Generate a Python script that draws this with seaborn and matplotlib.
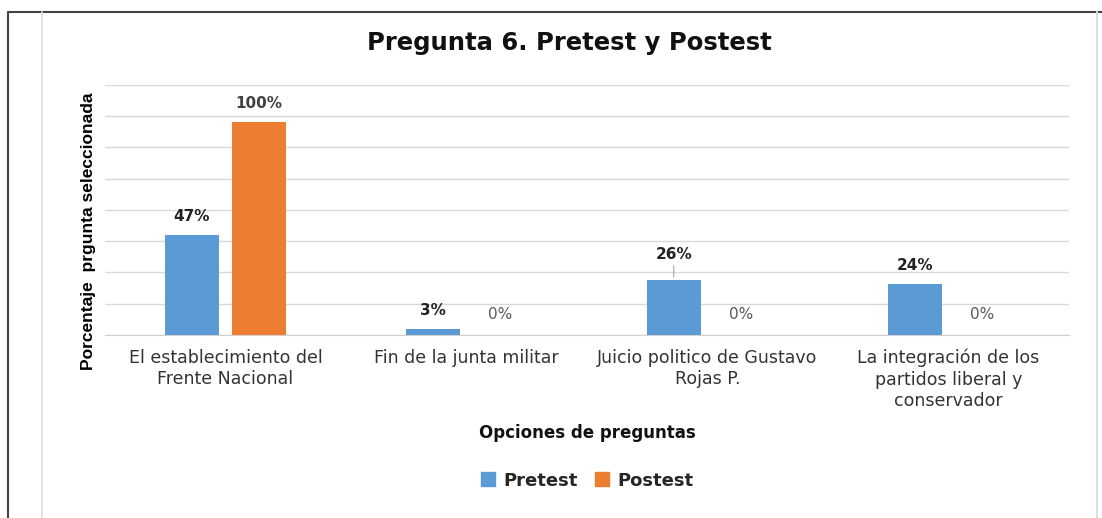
import numpy as np
import pandas as pd
import seaborn as sns
from matplotlib import pyplot as plt
from matplotlib.lines import Line2D

categories = ["El establecimiento del\nFrente Nacional",
              "Fin de la junta militar",
              "Juicio politico de Gustavo\nRojas P.",
              "La integración de los\npartidos liberal y\nconservador"]
pretest = [47, 3, 26, 24]
postest = [100, 0, 0, 0]
series = ["Pretest", "Postest"]
colors = ["#5B9BD5", "#ED7D31"]

df = pd.DataFrame({
    "Opcion": categories * 2,
    "Serie": ["Pretest"] * 4 + ["Postest"] * 4,
    "Valor": pretest + postest,
})

sns.set_style("white")
plt.rcParams['font.family'] = ['DejaVu Sans']

fig = plt.figure(figsize=(11.02, 5.18), dpi=100)
ax = fig.add_axes([0.0953, 0.3533, 0.8747, 0.4827])

sns.barplot(data=df, x="Opcion", y="Valor", hue="Serie", hue_order=series,
            palette=colors, width=0.56, gap=0.2, ax=ax, legend=False,
            saturation=1, edgecolor="none")

top = 117.4
ax.set_ylim(0, top)
ax.set_xlim(-0.5, 3.5)
ax.set_yticks(np.linspace(0, top, 9))
ax.set_yticklabels([])
ax.yaxis.grid(True, color="#D9D9D9", linewidth=1)
ax.set_axisbelow(True)
ax.tick_params(axis="both", length=0)
for s in ["left", "right", "top"]:
    ax.spines[s].set_visible(False)
ax.spines["bottom"].set_color("#D0D0D0")

ax.set_xticks(range(4))
ax.set_xticklabels(categories, fontsize=12.5, color="#333333", linespacing=1.25)
ax.tick_params(axis="x", pad=10)

ax.set_xlabel("Opciones de preguntas", fontsize=12, fontweight="bold",
              labelpad=10, color="#111111")
ax.set_ylabel("Porcentaje  prgunta seleccionada", fontsize=12.5,
              fontweight="bold", family="Liberation Sans", color="#000000")
ax.yaxis.set_label_coords(-0.0095, 0.416)

# data labels
for i, container in enumerate(ax.containers):
    for j, bar in enumerate(container):
        v = int(round(bar.get_height()))
        x = bar.get_x() + bar.get_width() / 2
        if v == 0:
            ax.annotate("0%", (x, 0), xytext=(0, 14.5), textcoords="offset points",
                        ha="center", va="center", fontsize=11, color="#595959")
            continue
        off = 13
        if series[i] == "Pretest" and j == 2:
            off = 18
            ax.annotate("", (x, v), xytext=(0, off - 6), textcoords="offset points",
                        arrowprops=dict(arrowstyle="-", color="#A6A6A6", lw=0.8))
        col = "#404040" if v == 100 else "#222222"
        ax.annotate(f"{v}%", (x, v), xytext=(0, off), textcoords="offset points",
                    ha="center", va="center", fontsize=11, fontweight="bold",
                    color=col)

fig.text(0.517, 0.917, "Pregunta 6. Pretest y Postest", ha="center",
         va="center", fontsize=17.5, fontweight="bold", color="#111111")

handles = [Line2D([], [], marker="s", linestyle="none", markersize=10,
                  markerfacecolor=c, markeredgecolor=c) for c in colors]
fig.legend(handles, series, loc="center", bbox_to_anchor=(0.532, 0.072),
           ncol=2, frameon=False, prop={"weight": "bold", "size": 13},
           handlelength=0.9, handletextpad=0.4, columnspacing=0.9)

# page borders
fig.add_artist(Line2D([8 / 1102, 8 / 1102], [0, 1 - 12 / 518],
                      color="#444444", lw=1.5, transform=fig.transFigure))
fig.add_artist(Line2D([8 / 1102, 1], [1 - 12 / 518, 1 - 12 / 518],
                      color="#444444", lw=1.5, transform=fig.transFigure))
fig.add_artist(Line2D([42 / 1102, 42 / 1102], [0, 1 - 12 / 518],
                      color="#DDDDDD", lw=1.2, transform=fig.transFigure))
fig.add_artist(Line2D([1097 / 1102, 1097 / 1102], [0, 1 - 12 / 518],
                      color="#DDDDDD", lw=1.5, transform=fig.transFigure))

fig.savefig("out.png", dpi=100)
